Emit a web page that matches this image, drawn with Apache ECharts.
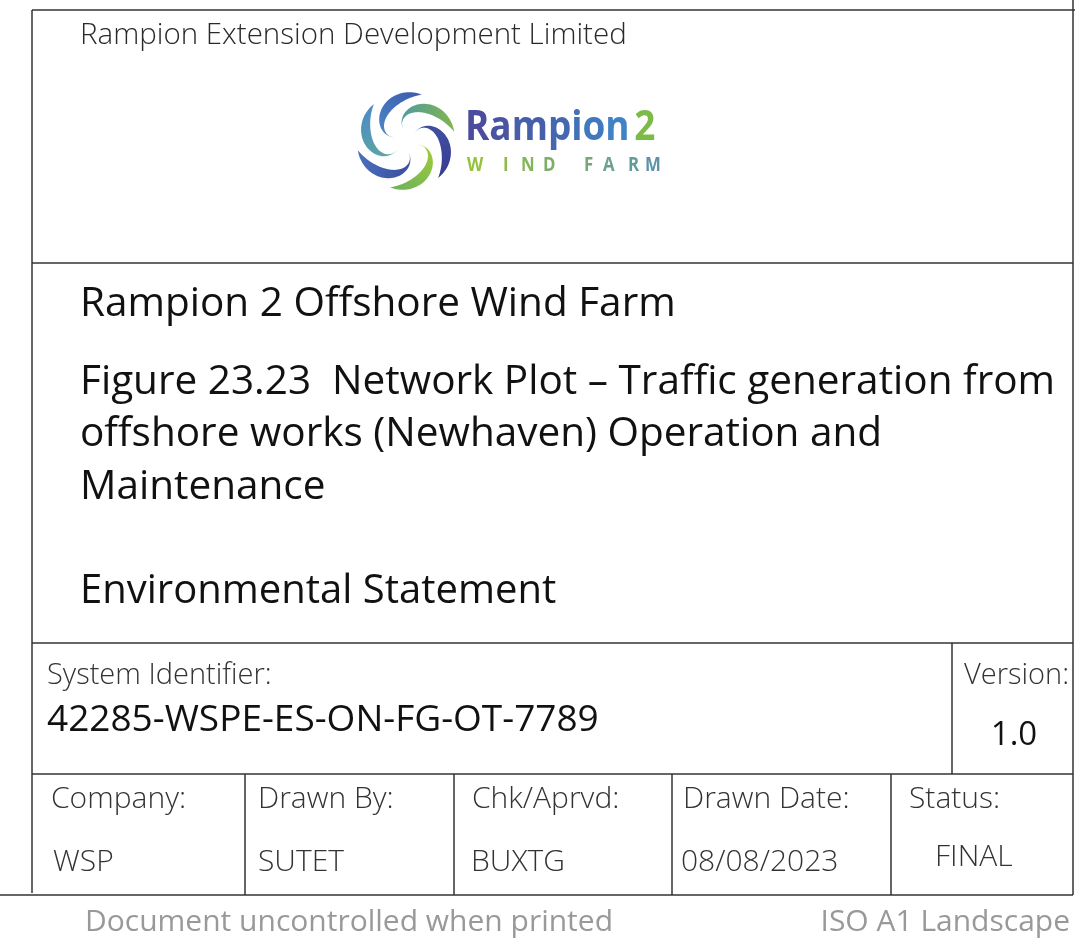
<!DOCTYPE html>
<html><head><meta charset="utf-8">
<script src="https://cdn.jsdelivr.net/npm/echarts@6/dist/echarts.min.js"></script>
<style>html,body{margin:0;padding:0;background:#fff}#c{width:1081px;height:944px}</style>
</head><body><div id="c"></div>
<script>
// ---- content ----
const companyName = 'Rampion Extension Development Limited';
const logoWord = 'Rampion';
const logoNumber = '2';
const logoTag = 'WINDFARM';
const projectTitle = 'Rampion 2 Offshore Wind Farm';
const figureLines = ['Figure 23.23  Network Plot \u2013 Traffic generation from', 'offshore works (Newhaven) Operation and', 'Maintenance'];
const documentType = 'Environmental Statement';
const systemIdLabel = 'System Identifier:';
const systemId = '42285-WSPE-ES-ON-FG-OT-7789';
const versionLabel = 'Version:';
const versionValue = '1.0';
const fieldLabels = ['Company:', 'Drawn By:', 'Chk/Aprvd:', 'Drawn Date:', 'Status:'];
const fieldValues = ['WSP', 'SUTET', 'BUXTG', '08/08/2023', 'FINAL'];
const footerLeft = 'Document uncontrolled when printed';
const footerRight = 'ISO A1 Landscape';
const bladeColors = [['#4c84c2', '#3d5db0'], ['#519c9e', '#80b64a'], ['#4152a2', '#3a3c96'], ['#9cc93c', '#6db35a'], ['#3a4ea4', '#4a70bd'], ['#5ea5a3', '#4c8cc6']];

// ---- layout ----
const FONT = '"Open Sans", "Noto Sans", sans-serif';
const LINE = '#333';
const els = [];
function line(x1, y1, x2, y2, w) {
  els.push({type: 'line', shape: {x1, y1, x2, y2}, style: {stroke: LINE, lineWidth: w || 1.5}, silent: true});
}
function text(str, x, y, size, color, opts) {
  opts = opts || {};
  els.push({type: 'text', x, y, silent: true, scaleX: opts.scaleX || 1, style: {
    text: str, fontSize: size, fontFamily: opts.family || FONT, fontWeight: opts.weight || 'normal',
    fill: color, textAlign: opts.align || 'left', textVerticalAlign: 'middle'}});
}
// frame
line(32, 10, 1075, 10);
line(32, 10, 32, 893);
line(1073, 0, 1073, 895);
line(32, 263, 1073, 263);
line(32, 643, 1073, 643);
line(32, 774, 1073, 774);
line(952, 643, 952, 774);
line(0, 895, 1073, 895);
[245, 454, 672, 891].forEach(x => line(x, 774, x, 895));

// header
text(companyName, 80, 36, 29.5, '#2a2a2a', {weight: 300});

// logo swirl
const cx = 406, cy = 141;
function centre(a0, s) {
  const r = 12 + 37 * Math.sqrt(s), a = (a0 - 95 * s) * Math.PI / 180;
  return [cx + r * Math.cos(a), cy - r * Math.sin(a)];
}
bladeColors.forEach((cols, i) => {
  const a0 = 166 - i * 60, N = 40, outer = [], inner = [];
  for (let k = 0; k <= N; k++) {
    const s = k / N, p = centre(a0, s);
    const q1 = centre(a0, Math.max(0, s - 0.01)), q2 = centre(a0, Math.min(1, s + 0.01));
    let dx = q2[0] - q1[0], dy = q2[1] - q1[1]; const L = Math.hypot(dx, dy) || 1; dx /= L; dy /= L;
    const w = 4.8 * Math.pow(Math.sin(Math.PI * Math.pow(s, 1.3)), 0.9);
    outer.push([p[0] - dy * w, p[1] + dx * w]);
    inner.push([p[0] + dy * w, p[1] - dx * w]);
  }
  const b = centre(a0, 0), t = centre(a0, 1);
  els.push({type: 'polygon', silent: true, shape: {points: outer.concat(inner.reverse())},
    style: {fill: {type: 'linear', global: true, x: b[0], y: b[1], x2: t[0], y2: t[1],
      colorStops: [{offset: 0, color: cols[0]}, {offset: 1, color: cols[1]}]}}});
});

// logo word
function mix(c1, c2, t) {
  const a = parseInt(c1.slice(1), 16), b = parseInt(c2.slice(1), 16);
  const ch = sh => Math.round(((a >> sh) & 255) * (1 - t) + ((b >> sh) & 255) * t);
  return 'rgb(' + ch(16) + ',' + ch(8) + ',' + ch(0) + ')';
}
const rich = {};
let richText = '';
logoWord.split('').forEach((ch, i) => {
  rich['c' + i] = {fontSize: 41, fontWeight: 'bold', fontFamily: FONT, fill: mix('#4b4c9c', '#3f82c5', i / (logoWord.length - 1))};
  richText += '{c' + i + '|' + ch + '}';
});
rich.n = {fontSize: 41, fontWeight: 'bold', fontFamily: FONT, fill: '#7dbb48'};
rich.sp = {fontSize: 20, fontFamily: FONT, fill: '#fff'};
richText += '{sp| }{n|' + logoNumber + '}';
els.push({type: 'text', x: 465, y: 128, scaleX: 0.9, silent: true, style: {text: richText, textVerticalAlign: 'middle', rich}});
const tagX = [467, 503, 521, 543, 584, 603, 628, 645];
logoTag.split('').forEach((ch, i) => text(ch, tagX[i], 165, 20, mix('#94c23a', '#5b94a9', i / (logoTag.length - 1)), {weight: 'bold', scaleX: 0.84}));

// titles
text(projectTitle, 80, 304, 40.5, '#111');
figureLines.forEach((s, i) => text(s, 80, 382 + i * 52.5, 40.5, '#111'));
text(documentType, 80, 592, 40, '#111');

// system id / version
text(systemIdLabel, 47, 676, 29, '#333', {weight: 300});
text(systemId, 47, 720, 37, '#111');
text(versionLabel, 964, 676, 29, '#333', {weight: 300});
text(versionValue, 1014, 736, 33, '#111', {align: 'center'});

// fields
const labelX = [51, 258, 472, 683, 909];
const valueX = [53, 258, 471, 681, 935];
const valueY = [862, 862, 862, 862, 857];
fieldLabels.forEach((s, i) => text(s, labelX[i], 799, 30, '#333', {weight: 300}));
fieldValues.forEach((s, i) => text(s, valueX[i], valueY[i], 30, '#333', {weight: 300}));

// footer
text(footerLeft, 85, 922, 30, '#999');
text(footerRight, 1070, 922, 30, '#999', {align: 'right'});

const chart = echarts.init(document.getElementById('c'), null, {renderer: 'canvas'});
chart.setOption({animation: false, graphic: {elements: els}});
</script></body></html>
